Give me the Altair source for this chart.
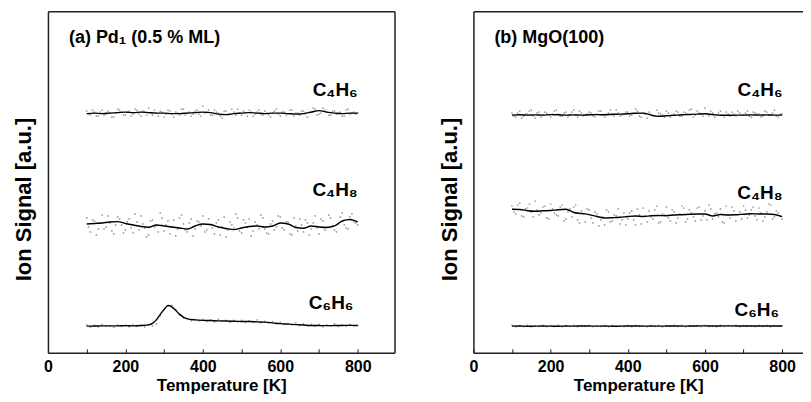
import altair as alt
import pandas as pd

FONT = "Liberation Sans"

# ---------------- data ----------------
T_LINE = [100, 120, 140, 160, 180, 200, 220, 240, 260, 280,
          300, 320, 340, 360, 380, 400, 420, 440, 460, 480,
          500, 520, 540, 560, 580, 600, 620, 640, 660, 680,
          700, 720, 740, 760, 780, 800]

T_C6H6_A = [100, 120, 140, 160, 180, 200, 220, 240, 260,
            270, 280, 290, 300, 310, 320, 330, 340,
            360, 380, 400, 420, 440, 460, 480, 500, 520, 540, 560, 580,
            600, 620, 640, 660, 680, 700, 720, 740, 760, 780, 800]

T_DOTS = list(range(100, 801, 10))
T_DOTS2 = list(range(105, 800, 10))

# panel (a) Pd1 (0.5 % ML) -- smoothed traces
A_C4H6_LINE = [242.5, 243, 242.5, 243, 243.5, 244, 243.5, 244, 243.5, 243,
               243, 242.5, 242.5, 243, 243.5, 244, 243.5, 242, 241.5, 242.5,
               243, 243.5, 243, 242.5, 243, 243, 242.5, 242, 242.5, 244,
               245.5, 244, 243, 242.5, 243, 243]
A_C4H8_LINE = [132, 132.5, 133, 134, 134.3, 132.5, 131, 129.5, 128.7, 131,
               130, 129, 128, 127, 130, 132, 131.5, 129, 127.5, 126.3,
               128, 129.5, 130, 129, 130, 133, 132, 128.5, 127.7, 130,
               129, 128.5, 130, 135, 136.5, 134]
A_C6H6_LINE = [29.7, 29.8, 30, 30, 30, 30.2, 30, 30.3, 31,
               32.5, 36, 41.5, 46.5, 50.3, 49, 45.5, 41.5,
               37, 36, 35.5, 35.3, 35, 34.8, 34.6, 34.4, 34.3, 34, 33.7, 33,
               32.2, 31.7, 31.2, 30.8, 30.4, 30.3, 30.2, 30.3, 30.4, 30.5, 30.3]

# panel (a) raw points
A_C4H6_DOTS = [245, 241, 244, 240, 246, 242, 243, 239, 247, 244,
               241, 245, 242, 246, 240, 244, 248, 241, 243, 245,
               239, 246, 242, 244, 241, 247, 243, 240, 245, 242,
               250, 244, 241, 246, 243, 238, 245, 242, 244, 247,
               241, 243, 246, 240, 244, 242, 245, 241, 243, 247,
               240, 244, 242, 246, 243, 241, 245, 239, 244, 247,
               242, 248, 244, 241, 245, 243, 240, 246, 242, 244,
               243]
A_C4H6_DOTS2 = [242, 246, 240, 244, 241, 245, 239, 243, 246, 241,
                244, 240, 247, 242, 245, 241, 243, 246, 240, 244,
                242, 245, 239, 243, 247, 241, 244, 242, 246, 240,
                243, 246, 241, 244, 240, 245, 242, 247, 241, 243,
                245, 240, 244, 242, 246, 241, 243, 239, 245, 242,
                244, 241, 246, 240, 243, 245, 242, 244, 248, 241,
                243, 246, 241, 245, 242, 244, 240, 247, 243, 242]
A_C4H8_DOTS = [138, 124, 135, 127, 141, 129, 133, 122, 139, 131,
               126, 137, 123, 134, 140, 128, 121, 136, 130, 143,
               125, 135, 129, 120, 138, 132, 124, 137, 127, 134,
               140, 126, 131, 122, 136, 129, 119, 134, 128, 138,
               123, 133, 137, 125, 131, 141, 127, 122, 135, 129,
               139, 126, 134, 121, 130, 137, 124, 133, 127, 140,
               122, 135, 129, 138, 126, 132, 143, 128, 139, 134,
               131]
A_C4H8_DOTS2 = [129, 136, 121, 133, 127, 140, 125, 131, 137, 123,
                134, 128, 142, 126, 132, 119, 135, 129, 124, 138,
                131, 122, 136, 127, 141, 126, 133, 120, 135, 130,
                124, 137, 128, 133, 121, 139, 126, 131, 142, 125,
                136, 129, 120, 134, 127, 138, 123, 132, 126, 140,
                128, 134, 122, 138, 125, 131, 136, 121, 133, 128,
                137, 126, 141, 130, 124, 139, 131, 127, 142, 133]
A_C6H6_DOTS = [31, 28.5, 30.5, 29, 31.5, 29.5, 30, 28.5, 31, 29.5,
               30.5, 29, 31, 29.5, 30.5, 29, 31, 30, 32, 40,
               46, 50, 50.5, 46, 41, 38, 37.5, 35, 36.5, 35,
               36.5, 34.5, 36, 34, 36.5, 35, 35.5, 33.5, 35.5, 34,
               35.5, 33.5, 35, 34, 36, 33, 34.5, 33, 34, 32,
               33.5, 31.5, 32.5, 31, 33, 30.5, 32, 30, 31.5, 29.5,
               31.5, 29, 31, 30, 32, 29.5, 31, 29.5, 31.5, 30,
               30.5]

# panel (b) MgO(100) -- smoothed traces
B_C4H6_LINE = [241, 241.3, 241, 241.2, 241, 241.5, 241.3, 241, 241.2, 241,
               241.3, 241.5, 241.3, 241.8, 242, 242.3, 242.8, 243, 241, 239.8,
               240.3, 240.8, 241.3, 241.6, 242, 242.3, 241.6, 240.8, 240.8, 241,
               241, 241.2, 241, 241.2, 241, 241]
B_C4H8_LINE = [146.7, 146.5, 145.3, 144.8, 145.2, 145.5, 146.3, 146.7, 143.5, 142.5,
               141.3, 139.5, 138, 138.3, 138.7, 139.5, 140, 139.5, 140.2, 140.5,
               140.3, 141, 141.3, 141.7, 142, 142, 140, 141.5, 141, 141.3,
               141.8, 142.3, 142, 142, 141.5, 139.3]
B_C6H6_LINE = [29.7, 29.8, 29.6, 29.7, 29.8, 29.7, 29.6, 29.8, 29.7, 29.9,
               29.8, 29.7, 29.8, 29.6, 29.7, 29.8, 29.9, 29.7, 29.8, 29.7,
               29.8, 29.9, 29.7, 29.8, 29.9, 30, 29.8, 29.9, 30, 29.9,
               29.8, 29.9, 29.8, 29.9, 29.8, 29.8]

# panel (b) raw points
B_C4H6_DOTS = [243, 239, 245, 240, 242, 246, 238, 244, 241, 243,
               239, 245, 242, 240, 244, 241, 246, 239, 243, 241,
               244, 240, 242, 245, 239, 243, 241, 246, 240, 242,
               244, 241, 247, 240, 243, 238, 242, 240, 243, 241,
               245, 239, 242, 244, 240, 243, 246, 239, 245, 242,
               248, 240, 243, 241, 245, 239, 242, 244, 240, 243,
               241, 245, 239, 243, 242, 240, 244, 241, 246, 239,
               242]
B_C4H6_DOTS2 = [240, 243, 238, 242, 245, 240, 243, 239, 244, 241,
                242, 246, 240, 243, 239, 244, 241, 245, 240, 242,
                243, 239, 245, 241, 242, 246, 240, 243, 241, 244,
                240, 243, 245, 239, 242, 244, 240, 246, 242, 239,
                243, 241, 245, 240, 244, 242, 247, 241, 243, 240,
                242, 245, 239, 243, 241, 244, 240, 242, 245, 241,
                243, 240, 244, 242, 239, 245, 241, 243, 240, 242]
B_C4H8_DOTS = [150, 142, 153, 139, 148, 144, 155, 141, 149, 138,
               152, 143, 140, 151, 137, 147, 149, 136, 145, 134,
               146, 133, 142, 136, 131, 144, 135, 140, 132, 143,
               137, 145, 131, 141, 148, 134, 139, 146, 133, 142,
               149, 135, 144, 138, 150, 134, 146, 139, 148, 136,
               145, 151, 137, 143, 147, 133, 141, 149, 135, 144,
               150, 138, 146, 140, 148, 135, 144, 151, 139, 143,
               137]
B_C4H8_DOTS2 = [144, 151, 140, 147, 152, 139, 146, 143, 150, 137,
                147, 141, 149, 135, 144, 139, 151, 133, 142, 147,
                138, 144, 130, 139, 146, 134, 141, 147, 136, 131,
                143, 136, 147, 132, 140, 145, 137, 150, 134, 141,
                138, 146, 133, 142, 148, 137, 143, 135, 149, 140,
                136, 147, 142, 139, 134, 150, 138, 145, 141, 137,
                146, 141, 149, 136, 143, 139, 152, 137, 145, 140]
B_C6H6_DOTS = [30.5, 29, 30.2, 29.3, 30.6, 29.1, 30, 29.5, 30.4, 29.2,
               30.3, 29.4, 30.7, 29, 30.1, 29.6, 30.5, 29.2, 30.2, 29.5,
               30.6, 29.1, 30, 29.4, 30.3, 29, 30.5, 29.6, 30.1, 29.3,
               30.4, 29.2, 30.6, 29.5, 30, 29.1, 30.3, 29.4, 30.5, 29,
               30.2, 29.6, 30.4, 29.3, 30.7, 29.1, 30, 29.5, 30.3, 29.2,
               30.5, 29.4, 30.1, 29, 30.6, 29.3, 30.2, 29.6, 30.4, 29.1,
               30.3, 29.5, 30, 29.2, 30.5, 29.4, 30.6, 29, 30.2, 29.5,
               30]

LABELS = ["C\u2084H\u2086", "C\u2084H\u2088", "C\u2086H\u2086"]
A_LABEL_T = [800, 800, 789]
A_LABEL_V = [260, 160, 47]
B_LABEL_T = [801, 801, 792]
B_LABEL_V = [260, 157, 40]

TITLE_A = "(a) Pd\u2081 (0.5 % ML)"
TITLE_B = "(b) MgO(100)"

TICK_VALUES = [0, 100, 200, 300, 400, 500, 600, 700, 800]
Y_MIN = 3
Y_MAX = 345
PLOT_H = 342

AXIS_STYLE = dict(
    domainColor="#222",
    domainWidth=1.5,
    grid=False,
    labelFont=FONT,
    labelFontWeight="bold",
    labelColor="black",
    titleFont=FONT,
    titleFontWeight="bold",
    titleColor="black",
)


def build_lines(specs):
    rows = []
    for name, ts, vs in specs:
        for t, v in zip(ts, vs):
            rows.append({"series": name, "T": t, "signal": v})
    return pd.DataFrame(rows)


def panel(title, lines, dots, lab_t, lab_v, x_max, width, right_border):
    line_df = build_lines(lines)
    dot_df = build_lines(dots)
    lab_df = pd.DataFrame({"label": LABELS, "T": lab_t, "signal": lab_v})
    title_df = pd.DataFrame({"title": [title]})

    xs = alt.Scale(domain=[0, x_max], nice=False, zero=False)
    ys = alt.Scale(domain=[Y_MIN, Y_MAX], nice=False, zero=False)

    x_axis = alt.Axis(
        values=TICK_VALUES,
        labelExpr="datum.value % 200 === 0 ? datum.label : ''",
        title="Temperature [K]",
        tickSize={"expr": "-4"},
        tickColor="#222",
        labelPadding=10,
        labelFlush=False,
        labelOverlap=False,
        labelFontSize=16,
        titleFontSize=17,
        titlePadding=3,
        **AXIS_STYLE,
    )
    y_axis = alt.Axis(
        title="Ion Signal [a.u.]",
        labels=False,
        ticks=False,
        titleFontSize=22,
        titlePadding=12,
        titleY=188,
        **AXIS_STYLE,
    )
    top_axis = alt.Axis(orient="top", labels=False, ticks=False, title=None,
                        domainColor="#222", domainWidth=1.5, grid=False)
    right_axis = alt.Axis(orient="right", labels=False, ticks=False, title=None,
                          domainColor="#222", domainWidth=1.5, grid=False)

    dots_layer = alt.Chart(dot_df).mark_circle(size=3, color="#777777", opacity=0.75).encode(
        x=alt.X("T:Q", scale=xs, axis=x_axis),
        y=alt.Y("signal:Q", scale=ys, axis=y_axis),
        detail="series:N",
    )
    line_layer = alt.Chart(line_df).mark_line(color="black", strokeWidth=1.4, interpolate="monotone").encode(
        x=alt.X("T:Q", scale=xs, axis=top_axis),
        y=alt.Y("signal:Q", scale=ys, axis=right_axis if right_border else None),
        detail="series:N",
    )
    label_layer = alt.Chart(lab_df).mark_text(
        font=FONT, fontSize=19, fontWeight="bold", align="right", baseline="alphabetic", color="black"
    ).encode(
        x=alt.X("T:Q", scale=xs, axis=None),
        y=alt.Y("signal:Q", scale=ys, axis=None),
        text="label:N",
    )
    title_layer = alt.Chart(title_df).mark_text(
        font=FONT, fontSize=18, fontWeight="bold", align="left", baseline="middle", color="black"
    ).encode(
        x=alt.value(21),
        y=alt.value(27),
        text="title:N",
    )
    return alt.layer(dots_layer, line_layer, label_layer, title_layer).resolve_axis(
        x="independent", y="independent"
    ).properties(width=width, height=PLOT_H)


pa = panel(
    TITLE_A,
    [("C4H6", T_LINE, A_C4H6_LINE), ("C4H8", T_LINE, A_C4H8_LINE), ("C6H6", T_C6H6_A, A_C6H6_LINE)],
    [("C4H6", T_DOTS, A_C4H6_DOTS), ("C4H8", T_DOTS, A_C4H8_DOTS), ("C6H6", T_DOTS, A_C6H6_DOTS),
     ("C4H6b", T_DOTS2, A_C4H6_DOTS2), ("C4H8b", T_DOTS2, A_C4H8_DOTS2)],
    A_LABEL_T, A_LABEL_V, 895, 347, True,
)
pb = panel(
    TITLE_B,
    [("C4H6", T_LINE, B_C4H6_LINE), ("C4H8", T_LINE, B_C4H8_LINE), ("C6H6", T_LINE, B_C6H6_LINE)],
    [("C4H6", T_DOTS, B_C4H6_DOTS), ("C4H8", T_DOTS, B_C4H8_DOTS), ("C6H6", T_DOTS, B_C6H6_DOTS),
     ("C4H6b", T_DOTS2, B_C4H6_DOTS2), ("C4H8b", T_DOTS2, B_C4H8_DOTS2)],
    B_LABEL_T, B_LABEL_V, 854, 330, False,
)

chart = alt.hconcat(pa, pb, spacing=44).properties(
    padding={"left": 5, "top": 3, "right": 0, "bottom": 0},
    background="white",
).configure_view(stroke=None)

chart.save("out.html", embed_options={"renderer": "svg", "actions": False})
